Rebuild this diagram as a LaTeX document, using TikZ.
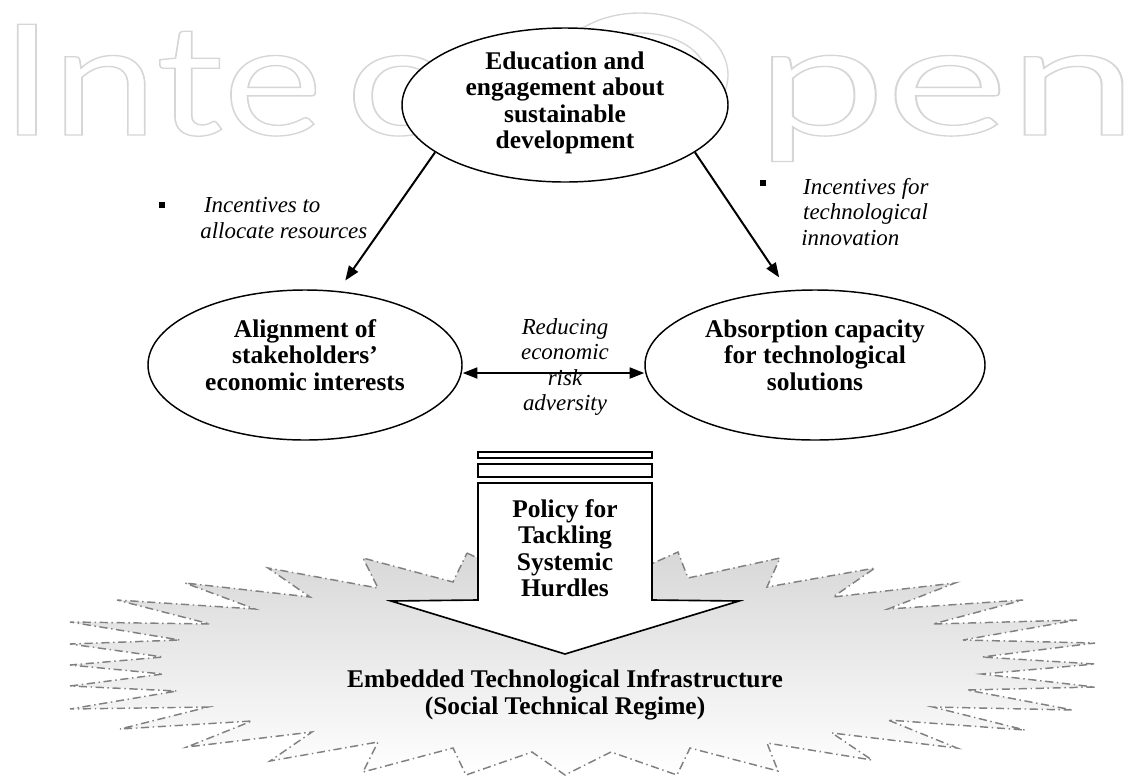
\documentclass[tikz,border=0pt]{standalone}
\usepackage{fontspec}
\setmainfont{Liberation Serif}
\newfontfamily\wmfont{Lato}
\usetikzlibrary{arrows.meta,shapes.geometric}
\definecolor{wmgray}{gray}{0.84}
\definecolor{stargray}{gray}{0.5}
\definecolor{starfill}{gray}{0.84}
\newcommand{\wmtext}[1]{\wmfont\fontsize{85}{85}\selectfont\special{pdf:literal direct 1 Tr 0.75 w}#1\special{pdf:literal direct 0 Tr}}
\begin{document}
\begin{tikzpicture}[x=0.55pt,y=-0.55pt,
  ell/.style={draw, ellipse, fill=white, line width=0.8pt, inner sep=0},
  bt/.style={font=\fontsize{14}{14.6}\selectfont\bfseries, align=center, inner sep=0},
  itl/.style={font=\fontsize{12.6}{13.8}\selectfont\itshape, inner sep=0},
  conn/.style={line width=1.1pt, -{Triangle[length=8pt,width=6pt]}},
  bulletbox/.style={fill=black, inner sep=0, minimum size=3.6pt},
  blockline/.style={draw=black, fill=white, line width=0.9pt},
  starline/.style={draw=stargray, line width=0.8pt, dash pattern=on 4.5pt off 2pt on 0.8pt off 2pt},
  wm/.style={inner sep=0, text=wmgray},
  wmline/.style={draw=wmgray, line width=0.75pt}
]
\useasboundingbox (0,0) rectangle (1145,776);
% watermark
\node[wm, anchor=base west, xscale=1.22] (wm1) at (0,135) {\wmtext{Inte}};
\node[wm, anchor=base west, xscale=1.3] (wm2) at (345,135) {\wmtext{c}};
\draw[wmline] (640,75) ellipse [x radius=88, y radius=62];
\draw[wmline] (640,75) ellipse [x radius=66, y radius=42];
\node[wm, anchor=base east, xscale=1.5] (wm3) at (1138,135) {\wmtext{pen}};
% starburst
\shadedraw[starline, top color=starfill, bottom color=white]
 (467,553) -- (520,578) -- (570,545) -- (620,578) -- (678,552) -- (688,578) -- (780,558)
 -- (767,587) -- (875,568) -- (833,597) -- (955,583) -- (888,609) -- (1023,600)
 -- (933,624) -- (1077,620) -- (963,640) -- (1095,643) -- (982,657) -- (1095,664)
 -- (982,674) -- (1095,687) -- (967,690) -- (1073,710) -- (933,707) -- (1025,730)
 -- (888,720) -- (957,748) -- (832,733) -- (872,760) -- (767,743) -- (778,771)
 -- (690,748) -- (677,775) -- (611,752) -- (565,775) -- (532,752) -- (466,775)
 -- (453,748) -- (363,772) -- (378,742) -- (270,761) -- (312,732) -- (187,747)
 -- (252,721) -- (120,729) -- (208,707) -- (70,709) -- (177,691) -- (70,686)
 -- (163,674) -- (70,665) -- (163,657) -- (70,644) -- (180,640) -- (70,622)
 -- (210,624) -- (117,600) -- (255,609) -- (185,583) -- (310,597) -- (268,568)
 -- (378,588) -- (363,558) -- (453,582) -- cycle;
% ellipses
\node[ell, minimum width=179.3pt, minimum height=84.7pt] (T) at (565,105) {};
\node[bt] (Tt) at (565,103) {Education and\\engagement about\\sustainable\\development};
\node[ell, minimum width=172.7pt, minimum height=82.5pt] (L) at (305,365) {};
\node[bt] (Lt) at (305,355) {Alignment of\\stakeholders’\\economic interests};
\node[ell, minimum width=187pt, minimum height=82.5pt] (R) at (815,365) {};
\node[bt] (Rt) at (815,355) {Absorption capacity\\for technological\\solutions};
% connectors
\draw[conn, shorten >=7pt] (T.200) -- (L.66);
\draw[conn, shorten >=8.5pt] (T.340) -- (R.110);
\draw[line width=1.1pt, {Triangle[length=8pt,width=6pt]}-{Triangle[length=8pt,width=6pt]}]
  ([yshift=-4.4pt]L.east) -- ([yshift=-4.4pt]R.west);
% labels
\node[bulletbox] (b1) at (162,205) {};
\node[itl, anchor=west, align=left] (l1) at (200,218) {\hspace*{2pt}Incentives to\\allocate resources};
\node[bulletbox] (b2) at (763,183) {};
\node[itl, anchor=west, align=left] (l2) at (801,212) {\hspace*{1pt}Incentives for\\\hspace*{1pt}technological\\innovation};
\node[itl, align=center] (l3) at (565,367) {Reducing\\economic\\risk\\adversity};
% block arrow
\draw[blockline] (478,452) rectangle (652,458);
\draw[blockline] (478,464) rectangle (652,477);
\draw[blockline] (478,483) -- (652,483) -- (652,600) -- (739,601) -- (565,654)
  -- (391,601) -- (478,600) -- cycle;
\node[bt] (P) at (565,548) {Policy for\\Tackling\\Systemic\\Hurdles};
\node[bt] (E) at (565,695) {Embedded Technological Infrastructure\\(Social Technical Regime)};
\end{tikzpicture}
\end{document}
